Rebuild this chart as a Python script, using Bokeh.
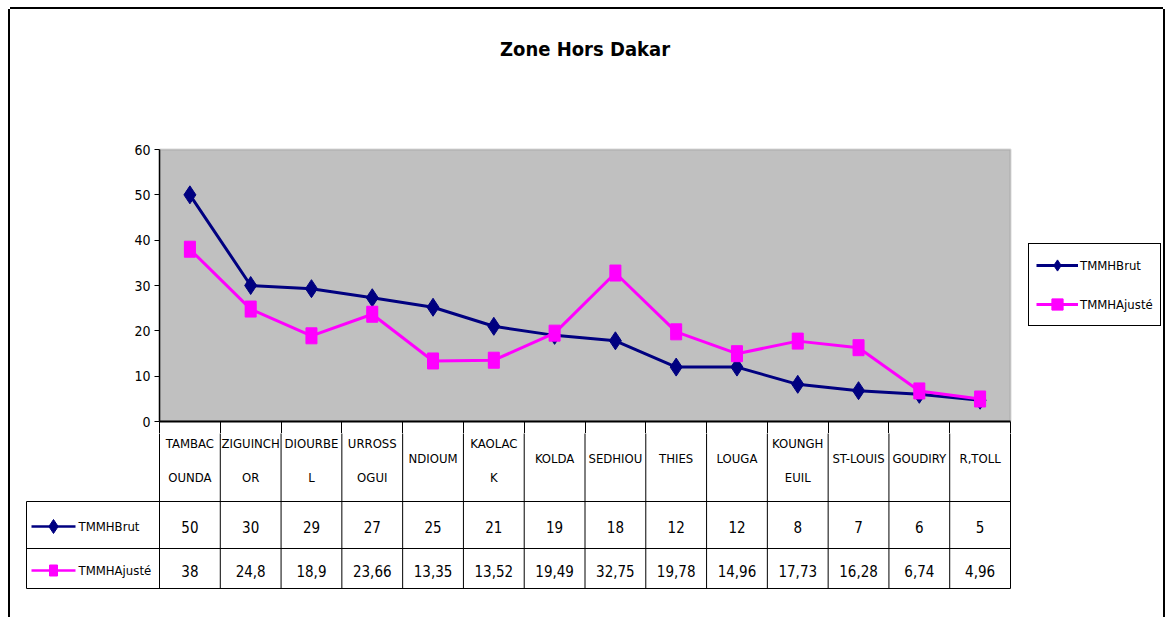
from bokeh.plotting import figure
from bokeh.models import Range1d, Legend, LegendItem, FixedTicker, Label, BoxAnnotation
from bokeh.layouts import column
from bokeh.embed import file_html
from bokeh.resources import INLINE
from bokeh.core.properties import value

# ---------------- data ----------------
title_text = "Zone Hors Dakar"
categories = ["TAMBACOUNDA", "ZIGUINCHOR", "DIOURBEL", "URROSSOGUI", "NDIOUM",
              "KAOLACK", "KOLDA", "SEDHIOU", "THIES", "LOUGA", "KOUNGHEUIL",
              "ST-LOUIS", "GOUDIRY", "R,TOLL"]
tick_labels = ["TAMBAC\nOUNDA", "ZIGUINCH\nOR", "DIOURBE\nL", "URROSS\nOGUI", "NDIOUM",
               "KAOLAC\nK", "KOLDA", "SEDHIOU", "THIES", "LOUGA", "KOUNGH\nEUIL",
               "ST-LOUIS", "GOUDIRY", "R,TOLL"]
series_names = ["TMMHBrut", "TMMHAjusté"]
tmmh_brut = [50, 30, 29.3, 27.3, 25.2, 21, 19, 17.8, 12, 12, 8.2, 6.8, 6, 4.7]
tmmh_ajuste = [38, 24.8, 18.9, 23.66, 13.35, 13.52, 19.49, 32.75, 19.78, 14.96,
               17.73, 16.28, 6.74, 4.96]
y_ticks = [0, 10, 20, 30, 40, 50, 60]
y_max = 60

brut_labels = [f"{round(v)}" for v in tmmh_brut]
ajuste_labels = [f"{v:g}".replace(".", ",") for v in tmmh_ajuste]

# ---------------- style / layout (page pixels) ----------------
FONT = "DejaVu Sans Condensed"
NAVY = "#000080"
MAGENTA = "#FF00FF"
n = len(categories)
xs = list(range(n))
bounds = [i - 0.5 for i in range(n + 1)]

OX, OY = 10, 9                # where the layout starts on the page
RIGHT = 1163                  # right edge of the chart
PLOT_L, PLOT_R, PLOT_T, PLOT_B = 159, 1010, 149, 421
PX = (PLOT_R - PLOT_L) / n    # pixels per category
PY = (PLOT_B - PLOT_T) / y_max  # pixels per y unit
GAP = 12                      # cell borders drawn by the x axis under the plot


def tx(px):
    return -0.5 + (px - PLOT_L) / PX


def ty(py):
    return (PLOT_B - py) / PY


# ---------------- chart ----------------
p = figure(width=RIGHT - OX, height=PLOT_B + GAP - OY,
           x_range=Range1d(-0.5, tx(RIGHT)), y_range=Range1d(0, ty(OY)),
           output_backend="svg", toolbar_location=None,
           min_border_left=PLOT_L - OX, min_border_right=0,
           min_border_top=0, min_border_bottom=GAP,
           background_fill_color="white", border_fill_color="white",
           outline_line_color=None)
p.frame_align = False
p.grid.visible = False

# grey plot area
p.add_layout(BoxAnnotation(left=-0.5, right=n - 0.5, bottom=0, top=y_max,
                           fill_color="#C0C0C0", fill_alpha=1.0,
                           line_color="#808080", line_width=2, level="underlay"))

p.xaxis.ticker = FixedTicker(ticks=[], minor_ticks=bounds)
p.xaxis.bounds = (-0.5, n - 0.5)
p.xaxis.axis_line_color = "black"
p.xaxis.axis_line_width = 2
p.xaxis.major_tick_in = 0
p.xaxis.major_tick_out = 0
p.xaxis.minor_tick_in = 0
p.xaxis.minor_tick_out = GAP
p.xaxis.minor_tick_line_color = "black"
p.xaxis.major_label_standoff = 0

p.yaxis.ticker = FixedTicker(ticks=y_ticks)
p.yaxis.bounds = (0, y_max)
p.yaxis.minor_tick_line_color = None
p.yaxis.major_tick_in = 0
p.yaxis.major_tick_out = 5
p.yaxis.axis_line_color = "black"
p.yaxis.axis_line_width = 1.5
p.yaxis.major_tick_line_color = "black"
p.yaxis.major_label_text_font = FONT
p.yaxis.major_label_text_font_size = "14px"
p.yaxis.major_label_text_color = "black"
p.yaxis.major_label_standoff = 4

l1 = p.line(xs, tmmh_brut, line_color=NAVY, line_width=3)
s1 = p.scatter(xs, tmmh_brut, marker="diamond", size=18, color=NAVY)
l2 = p.line(xs, tmmh_ajuste, line_color=MAGENTA, line_width=3)
s2 = p.scatter(xs, tmmh_ajuste, marker="square", size=10, color=MAGENTA)
p.rect(xs, tmmh_ajuste, width=11, height=16, width_units="screen",
       height_units="screen", color=MAGENTA)

# title
p.add_layout(Label(x=(n - 1) / 2, y=ty(48.5), text=title_text,
                   text_align="center", text_baseline="middle",
                   text_font=FONT, text_font_size="20px", text_font_style="bold",
                   text_color="black"))

legend = Legend(items=[LegendItem(label=series_names[0], renderers=[l1, s1]),
                       LegendItem(label=series_names[1], renderers=[l2, s2])],
                location=(1028 - PLOT_L, PLOT_B - 326), margin=0, padding=7,
                spacing=11, glyph_width=42, glyph_height=28, label_height=28,
                label_standoff=2, border_line_color="black",
                border_line_alpha=1.0, border_line_width=1,
                background_fill_color="white", background_fill_alpha=1.0,
                label_text_font=FONT, label_text_font_size="13px",
                label_text_color="black")
p.add_layout(legend)

# ---------------- data table ----------------
TOP = PLOT_B + GAP
t = figure(width=RIGHT - OX, height=617 - TOP,
           x_range=Range1d(tx(OX), tx(RIGHT)),
           y_range=Range1d(617 - PLOT_B, GAP), output_backend="svg",
           toolbar_location=None, x_axis_type=None, y_axis_type=None,
           min_border=0, outline_line_color=None,
           background_fill_color="white", border_fill_color="white")
t.frame_align = False
t.grid.visible = False

ROW_LINES = [80, 127, 167]
t.segment(x0=bounds, x1=bounds, y0=[0] * len(bounds), y1=[167] * len(bounds),
          line_color="black", line_width=1)
t.segment(x0=[tx(26)] * 3, x1=[n - 0.5] * 3, y0=ROW_LINES, y1=ROW_LINES,
          line_color="black", line_width=1)
t.segment(x0=[tx(26)], x1=[tx(26)], y0=[80], y1=[167], line_color="black", line_width=1)

line1 = [s.split("\n")[0] for s in tick_labels]
line2 = [s.split("\n")[1] if "\n" in s else "" for s in tick_labels]
y1 = [22 if "\n" in s else 37 for s in tick_labels]
head = dict(text_align="center", text_baseline="middle", text_font=value(FONT),
            text_font_size="13px", text_color="black")
vals = dict(head, text_font_size="15px")
t.text(x=xs, y=y1, text=line1, **head)
t.text(x=xs, y=[56] * n, text=line2, **head)
t.text(x=xs, y=[105] * n, text=brut_labels, **vals)
t.text(x=xs, y=[149] * n, text=ajuste_labels, **vals)

t.segment(x0=[tx(31)], x1=[tx(75)], y0=[105], y1=[105], line_color=NAVY, line_width=2.5)
t.scatter(x=[tx(53)], y=[105], marker="diamond", size=14, color=NAVY)
t.segment(x0=[tx(31)], x1=[tx(75)], y0=[149], y1=[149], line_color=MAGENTA, line_width=2.5)
t.rect(x=[tx(53)], y=[149], width=8, height=11, width_units="screen",
       height_units="screen", color=MAGENTA)
t.text(x=[tx(78)] * 2, y=[105, 149], text=series_names, text_align="left",
       text_baseline="middle", text_font=value(FONT), text_font_size="13px",
       text_color="black")

layout = column(p, t, styles={
    "margin-left": f"{OX}px", "margin-top": f"{OY}px",
    "box-shadow": "-2px 0 0 0 #000, 2px 0 0 0 #000, 0 -2px 0 0 #000"})

open("out.html", "w").write(file_html(layout, INLINE))
